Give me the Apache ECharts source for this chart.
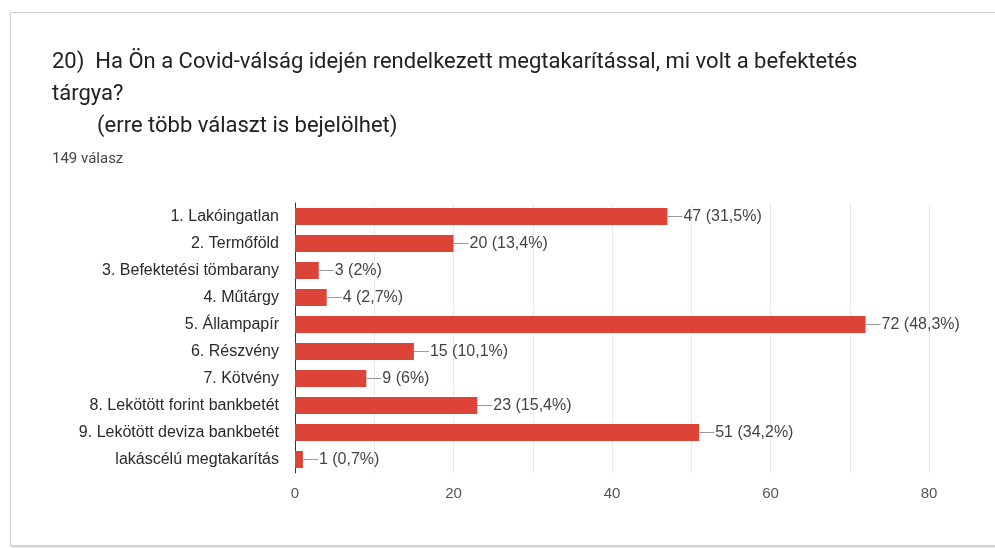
<!DOCTYPE html>
<html>
<head>
<meta charset="utf-8">
<script src="https://cdn.jsdelivr.net/npm/echarts@6/dist/echarts.min.js"></script>
<style>
  html, body { margin: 0; padding: 0; background: #fff; }
  .card {
    position: absolute; left: 10px; top: 12px; width: 1000px; height: 532px;
    border: 1px solid #d0d0d0; border-right: none;
    box-shadow: 1px 2px 3px rgba(0, 0, 0, 0.18);
    background: #fff;
  }
  #chart { position: absolute; left: 0; top: 0; width: 995px; height: 548px; }
</style>
</head>
<body>
<div class="card"></div>
<div id="chart"></div>
<script>
// answers, counts and the shown percentages (Google Forms summary)
const categories = [
  '1. Lakóingatlan',
  '2. Termőföld',
  '3. Befektetési tömbarany',
  '4. Műtárgy',
  '5. Állampapír',
  '6. Részvény',
  '7. Kötvény',
  '8. Lekötött forint bankbetét',
  '9. Lekötött deviza bankbetét',
  'lakáscélú megtakarítás',
];
const counts = [47, 20, 3, 4, 72, 15, 9, 23, 51, 1];
const percents = ['31,5%', '13,4%', '2%', '2,7%', '48,3%', '10,1%', '6%', '15,4%', '34,2%', '0,7%'];

const barColor = '#db4437';
const font = '"Liberation Sans", Arial, sans-serif';
const titleStyle = { fontFamily: 'Roboto', fontSize: 22, fontWeight: 'normal', color: '#202124', lineHeight: 32 };

const chart = echarts.init(document.getElementById('chart'));
chart.setOption({
  animation: false,
  backgroundColor: 'transparent',
  title: [
    {
      text: '20)  Ha Ön a Covid-válság idején rendelkezett megtakarítással, mi volt a befektetés\ntárgya?',
      left: 52, top: 46, padding: 0,
      textStyle: titleStyle,
    },
    {
      text: '(erre több választ is bejelölhet)',
      left: 97, top: 110, padding: 0,
      textStyle: titleStyle,
    },
    {
      text: '149 válasz',
      left: 52, top: 152, padding: 0,
      textStyle: { fontFamily: 'Roboto', fontSize: 15, fontWeight: 'normal', color: '#444' },
    },
  ],
  grid: { left: 295, right: 66, top: 203, bottom: 75, containLabel: false },
  xAxis: {
    type: 'value',
    min: 0, max: 80, interval: 20,
    axisLine: { show: false },
    axisTick: { show: false },
    axisLabel: { fontFamily: font, fontSize: 15, color: '#555', margin: 13 },
    splitLine: { lineStyle: { color: '#ebebeb' } },
    minorTick: { show: false, splitNumber: 2 },
    minorSplitLine: { show: true, lineStyle: { color: '#ebebeb' } },
  },
  yAxis: {
    type: 'category',
    inverse: true,
    data: categories,
    axisLine: { lineStyle: { color: '#333', width: 1 } },
    axisTick: { show: false },
    axisLabel: { fontFamily: font, fontSize: 16, color: '#2a2a2a', margin: 16 },
  },
  series: [{
    type: 'bar',
    data: counts,
    barWidth: 17,
    itemStyle: { color: barColor },
    label: {
      show: true,
      position: 'right',
      distance: 0,
      formatter: ({ dataIndex, value }) => `{l|}{t|${value} (${percents[dataIndex]})}`,
      rich: {
        l: { width: 15, height: 1, backgroundColor: '#999' },
        t: { fontFamily: font, fontSize: 16, color: '#444', padding: [0, 0, 0, 1] },
      },
    },
  }],
});
</script>
</body>
</html>
